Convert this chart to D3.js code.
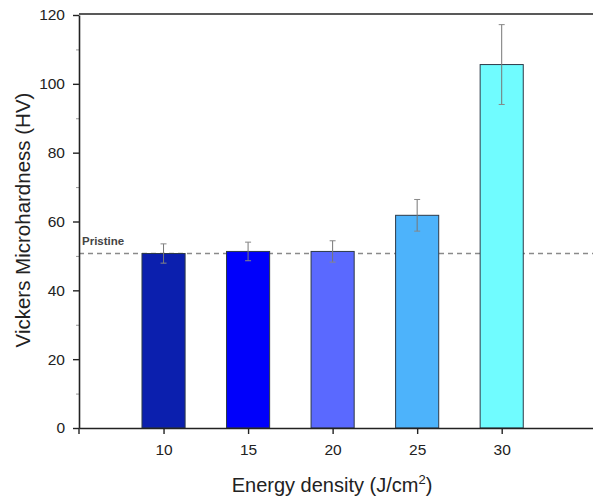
<!DOCTYPE html>
<html>
<head>
<meta charset="utf-8">
<script src="https://cdn.jsdelivr.net/npm/d3@7"></script>
<style>
  body { margin: 0; background: #fff; }
  text { font-family: "Liberation Sans", Arial, sans-serif; }
</style>
</head>
<body>
<div id="chart"></div>
<script>
// chart data
var energy = [10, 15, 20, 25, 30];
var hardness = [50.7, 51.3, 51.3, 61.8, 105.6];
var errors = [2.8, 2.7, 3.1, 4.6, 11.6];
var barColors = ['#0b1fae', '#0000fb', '#5a69ff', '#4db3fb', '#70fcff'];
var yTicks = [0, 20, 40, 60, 80, 100, 120];
var pristine = 50.7;

var width = 593, height = 499;
var margin = {top: 14, right: 0, bottom: 71, left: 79};

var svg = d3.select('#chart').append('svg')
    .attr('width', width)
    .attr('height', height);

var x = d3.scaleLinear().domain([5, 35.4]).range([margin.left, width - margin.right]);
var y = d3.scaleLinear().domain([0, 120]).range([height - margin.bottom, margin.top + 1]);
var barW = x(7.55) - x(5);

// minor y ticks
svg.append('g')
    .attr('transform', 'translate(' + margin.left + ',0)')
    .call(d3.axisLeft(y).tickValues([10, 30, 50, 70, 90, 110]).tickSize(3).tickFormat(''))
    .call(function(g) { g.select('.domain').remove(); })
    .selectAll('line').attr('stroke', '#999');

// pristine reference line
svg.append('line')
    .attr('x1', margin.left).attr('x2', width)
    .attr('y1', y(pristine)).attr('y2', y(pristine))
    .attr('stroke', '#8a8a8a')
    .attr('stroke-width', 1.3)
    .attr('stroke-dasharray', '5,4');

svg.append('text')
    .attr('x', margin.left + 3)
    .attr('y', y(pristine) - 9)
    .attr('font-size', 11.5)
    .attr('font-weight', 'bold')
    .attr('fill', '#444')
    .text('Pristine');

// bars
svg.selectAll('.bar')
    .data(energy)
    .enter().append('rect')
    .attr('class', 'bar')
    .attr('x', function(d) { return x(d) - barW / 2; })
    .attr('y', function(d, i) { return y(hardness[i]); })
    .attr('width', barW)
    .attr('height', function(d, i) { return y(0) - y(hardness[i]); })
    .attr('fill', function(d, i) { return barColors[i]; })
    .attr('stroke', '#2d3a48')
    .attr('stroke-width', 1);

// error bars
var eb = svg.selectAll('.err')
    .data(energy)
    .enter().append('g')
    .attr('class', 'err');

eb.append('line')
    .attr('x1', function(d) { return x(d); })
    .attr('x2', function(d) { return x(d); })
    .attr('y1', function(d, i) { return y(hardness[i] + errors[i]); })
    .attr('y2', function(d, i) { return y(hardness[i] - errors[i]); })
    .attr('stroke', '#777')
    .attr('stroke-width', 1);

eb.selectAll('.cap')
    .data(function(d, i) { return [{x: d, v: hardness[i] + errors[i]}, {x: d, v: hardness[i] - errors[i]}]; })
    .enter().append('line')
    .attr('x1', function(d) { return x(d.x) - 3; })
    .attr('x2', function(d) { return x(d.x) + 3; })
    .attr('y1', function(d) { return y(d.v); })
    .attr('y2', function(d) { return y(d.v); })
    .attr('stroke', '#888')
    .attr('stroke-width', 1);

// axes
var yAxis = svg.append('g')
    .attr('transform', 'translate(' + margin.left + ',0)')
    .call(d3.axisLeft(y).tickValues(yTicks).tickSize(6).tickSizeOuter(0).tickPadding(8));

var xAxis = svg.append('g')
    .attr('transform', 'translate(0,' + y(0) + ')')
    .call(d3.axisBottom(x).tickValues(energy).tickSize(6).tickSizeOuter(0).tickPadding(10));

[yAxis, xAxis].forEach(function(g) {
    g.select('.domain').attr('stroke', '#222').attr('stroke-width', 1.6);
    g.selectAll('.tick line').attr('stroke', '#222').attr('stroke-width', 1.4);
    g.selectAll('.tick text').attr('font-size', 15.5).attr('fill', '#222')
        .attr('font-family', '"Liberation Sans", Arial, sans-serif');
});

// left axis runs a little below the zero line, like the original
svg.append('line')
    .attr('x1', margin.left).attr('x2', margin.left)
    .attr('y1', y(0)).attr('y2', y(0) + 6)
    .attr('stroke', '#222').attr('stroke-width', 1.4);

// top frame line
svg.append('line')
    .attr('x1', margin.left).attr('x2', width)
    .attr('y1', margin.top).attr('y2', margin.top)
    .attr('stroke', '#222').attr('stroke-width', 1.6);

// titles
var xTitle = svg.append('text')
    .attr('x', 332)
    .attr('y', 492)
    .attr('text-anchor', 'middle')
    .attr('font-size', 20)
    .attr('fill', '#222');
xTitle.append('tspan').text('Energy density (J/cm');
xTitle.append('tspan').attr('font-size', 13).attr('dy', -8).text('2');
xTitle.append('tspan').attr('dy', 8).text(')');

svg.append('text')
    .attr('transform', 'translate(30,220) rotate(-90)')
    .attr('text-anchor', 'middle')
    .attr('font-size', 20.5)
    .attr('fill', '#222')
    .text('Vickers Microhardness (HV)');
</script>
</body>
</html>
